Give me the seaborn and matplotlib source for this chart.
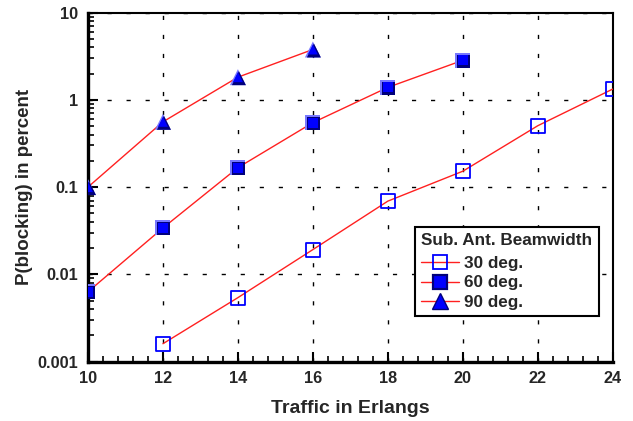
import numpy as np
import pandas as pd
import seaborn as sns
import matplotlib
matplotlib.use("Agg")
import matplotlib.pyplot as plt
import matplotlib.transforms as mtransforms
from matplotlib.lines import Line2D
from matplotlib.ticker import FixedLocator, AutoMinorLocator, LogLocator, NullFormatter

# ---- data ----
traffic_30 = [12, 14, 16, 18, 20, 22, 24]
block_30 = [0.0016, 0.0054, 0.0192, 0.069, 0.152, 0.505, 1.33]
traffic_60 = [10, 12, 14, 16, 18, 20]
block_60 = [0.0063, 0.034, 0.167, 0.548, 1.39, 2.84]
traffic_90 = [10, 12, 14, 16]
block_90 = [0.1, 0.56, 1.82, 3.78]
series_labels = ["30 deg.", "60 deg.", "90 deg."]
x_ticks = [10, 12, 14, 16, 18, 20, 22, 24]
y_ticks = [0.001, 0.01, 0.1, 1, 10]
y_tick_labels = ["0.001", "0.01", "0.1", "1", "10"]

sns.set_theme(style="white")
plt.rcParams['font.family'] = ['Liberation Sans', 'DejaVu Sans']
plt.rcParams['font.weight'] = 'bold'

fig = plt.figure(figsize=(6.33, 4.21), dpi=100)
ax = fig.add_axes([0.139, 0.1413, 0.829, 0.8287])

RED = '#ff2020'
LIGHT = '#7878ff'
DARK = '#00007a'
BLUE = '#0000ff'
PX = 0.72  # one pixel in points at 100 dpi

df30 = pd.DataFrame({"x": traffic_30, "y": block_30})
df60 = pd.DataFrame({"x": traffic_60, "y": block_60})
df90 = pd.DataFrame({"x": traffic_90, "y": block_90})

for d in (df30, df60, df90):
    sns.lineplot(data=d, x="x", y="y", ax=ax, color=RED, lw=1.0, zorder=3)

# open squares
sns.scatterplot(data=df30, x="x", y="y", ax=ax, marker='s', s=(14 * PX) ** 2,
                facecolor='none', edgecolor=BLUE, linewidth=1.3, zorder=5)

def bevel(d, marker, outer, mid, inner):
    off_d = mtransforms.offset_copy(ax.transData, fig=fig, x=PX, y=-PX, units='points')
    sns.scatterplot(data=d, x="x", y="y", ax=ax, marker=marker, s=(outer * PX) ** 2,
                    color=LIGHT, edgecolor='none', linewidth=0, zorder=5)
    sns.scatterplot(data=d, x="x", y="y", ax=ax, marker=marker, s=(mid * PX) ** 2,
                    color=DARK, edgecolor='none', linewidth=0, zorder=6)
    ax.collections[-1].set_offset_transform(off_d)
    sns.scatterplot(data=d, x="x", y="y", ax=ax, marker=marker, s=(inner * PX) ** 2,
                    color=BLUE, edgecolor='none', linewidth=0, zorder=7)

bevel(df60, 's', 15, 13, 10)
bevel(df90, '^', 16, 14, 10)

ax.set_yscale('log')
ax.set_xlim(10, 24)
ax.set_ylim(0.001, 10)
ax.xaxis.set_major_locator(FixedLocator(x_ticks))
ax.xaxis.set_minor_locator(AutoMinorLocator(5))
ax.set_yticks(y_ticks)
ax.set_yticklabels(y_tick_labels)
ax.yaxis.set_minor_locator(LogLocator(base=10, subs=np.arange(2, 10), numticks=20))
ax.yaxis.set_minor_formatter(NullFormatter())

ax.grid(True, which='major', color='black', linestyle=(0, (3, 10.7)), linewidth=1.0)
ax.tick_params(which='both', direction='in', left=True, bottom=True, top=False, right=False,
               color='black')
ax.tick_params(which='major', length=7, width=1.5, labelsize=11.7, pad=7)
ax.tick_params(which='minor', length=4, width=1.2)
for lab in ax.get_xticklabels() + ax.get_yticklabels():
    lab.set_fontweight('bold')

for side in ['left', 'bottom']:
    ax.spines[side].set_linewidth(2.4)
    ax.spines[side].set_color('black')
for side in ['right', 'top']:
    ax.spines[side].set_linewidth(1.5)
    ax.spines[side].set_color('black')

ax.set_xlabel("Traffic in Erlangs", fontsize=14, fontweight='bold', labelpad=10)
ax.set_ylabel("P(blocking) in percent", fontsize=13.5, fontweight='bold', labelpad=3.5)

handles = [
    Line2D([], [], color=RED, lw=1.0, marker='s', ms=10.5, mfc='none', mec=BLUE, mew=1.3),
    Line2D([], [], color=RED, lw=1.0, marker='s', ms=10.5, mfc=BLUE, mec=DARK, mew=1.6),
    Line2D([], [], color=RED, lw=1.0, marker='^', ms=11, mfc=BLUE, mec=DARK, mew=1.0),
]
leg = ax.legend(handles, series_labels, title="Sub. Ant. Beamwidth",
                loc='upper left', bbox_to_anchor=(0.623, 0.386),
                frameon=True, fancybox=False, edgecolor='black', framealpha=1,
                prop={'weight': 'bold', 'size': 12.3},
                title_fontproperties={'weight': 'bold', 'size': 12.3},
                borderpad=0.38, labelspacing=0.24, handlelength=2.2, handletextpad=0.3,
                borderaxespad=0)
leg._legend_box.align = 'left'
leg._legend_box.sep = 5.8
leg.get_frame().set_linewidth(1.5)
leg.set_zorder(10)

fig.savefig("out.png", dpi=100)
